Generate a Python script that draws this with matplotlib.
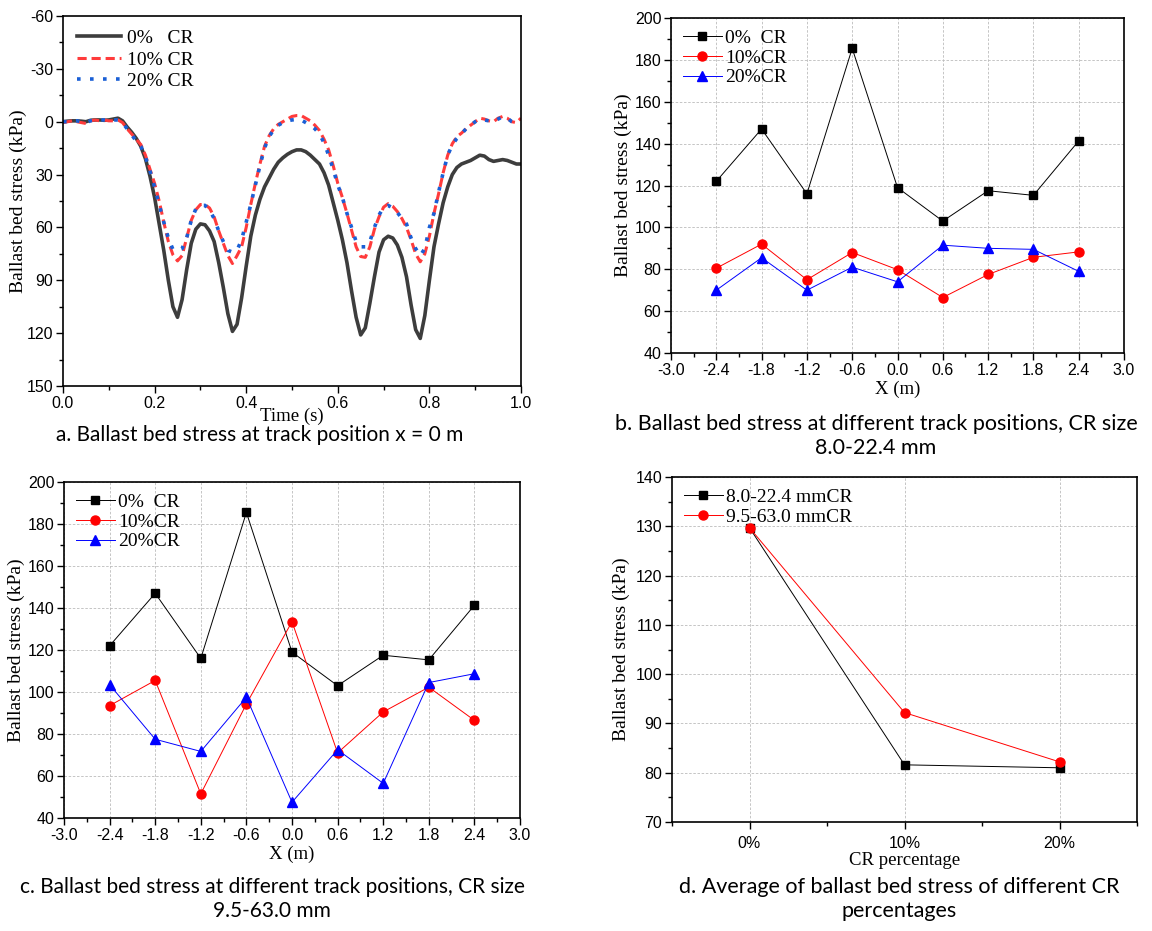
import matplotlib
matplotlib.use("Agg")
import matplotlib.pyplot as plt
import numpy as np
from matplotlib.ticker import MultipleLocator

plt.rcParams["axes.unicode_minus"] = False

# panel a: ballast bed stress over time at x = 0 m
time_s = np.round(np.arange(0, 101) * 0.01, 2)
stress_0 = [0, -0.3, -0.5, -0.5, -0.3, 0, -0.8, -1, -1, -0.8,
            -1, -1.5, -2, -0.5, 3, 6, 9.5, 14, 21, 31,
            43, 58, 73, 90, 105, 111, 101, 84, 69, 61,
            58, 58.5, 62, 68, 80, 94, 109, 119, 115, 100,
            82, 65, 53, 44, 37, 32, 27, 23, 20.5, 18.5,
            17, 16, 16, 17, 19, 21.5, 24, 29, 36, 46,
            56, 67, 80, 96, 111, 121, 117, 103, 88, 74,
            67, 65, 66, 70, 77, 88, 104, 118, 123, 110,
            90, 71, 58, 46, 37, 30, 26, 24, 23, 22,
            20.5, 19, 19.5, 21.5, 22.5, 22, 21.5, 22, 23, 24, 24]
stress_10 = [0.5, 0, -0.5, 0, 0.5, 1, -0.5, -1, -0.5, -1,
             -0.5, -0.5, -1, 0.5, 4, 7, 10, 13, 19, 27,
             35, 45, 57, 68, 75.5, 79, 76, 66, 56, 50,
             47, 47, 49, 54, 62, 69, 76, 80.5, 76, 71,
             60, 47, 35, 24, 14, 8, 4, 1.5, 0, -1.5,
             -3, -3.5, -3.5, -2, -0.5, 2, 5, 10, 16, 25,
             35, 43, 52, 61.5, 71, 76.5, 77, 71, 61, 54,
             48.5, 46.5, 48, 51, 55, 60, 67, 75, 79.5, 75,
             65, 52, 41, 29, 19, 12.5, 8.5, 6.5, 4, 2,
             0, -2, -1.5, -0.5, 0, -2, -3, -2, 0, 0.5, -2]
stress_20 = [0, 0, -0.5, -0.5, 0, 0.5, -0.5, -1, -1, -1,
             -0.5, -1, -1, 0.5, 4, 7.5, 11, 14, 20, 28,
             37, 47, 57, 66, 72.5, 73, 72, 66, 56, 49.5,
             47.5, 47.5, 50, 55, 62, 68, 73, 74, 73, 67,
             57, 47, 36, 25, 15, 8.5, 4.5, 2, 0.5, -0.5,
             -1, -1.3, -1, 0.5, 2, 4, 7, 12, 19, 27,
             36, 43, 52, 60, 68, 71, 71, 68, 60, 53,
             48.5, 47.5, 49, 51.5, 55, 58, 66, 72, 76, 72,
             60, 52, 40, 29, 19, 13, 9.5, 7, 4, 2,
             0, -1.3, -1, -0.5, 0, -1.5, -2.8, -2, 0, 1, 1]

# panels b and c: track positions
x_pos = [-2.4, -1.8, -1.2, -0.6, 0.0, 0.6, 1.2, 1.8, 2.4]
b_0 = [122, 147, 116, 185.5, 119, 103, 117.5, 115.3, 141.3]
b_10 = [80.5, 92, 75, 88, 79.8, 66.5, 77.5, 85.7, 88.3]
b_20 = [70, 85.5, 70, 81, 74, 91.5, 90, 89.5, 79]
c_0 = [122, 147, 116, 185.5, 119, 103, 117.5, 115.3, 141.3]
c_10 = [93.5, 105.5, 51.5, 94.3, 133.5, 71, 90.5, 102.3, 86.5]
c_20 = [103.5, 77.5, 71.7, 97.5, 47.5, 72.5, 56.5, 104.5, 108.7]

# panel d: averages
cr_labels = ["0%", "10%", "20%"]
avg_small = [129.7, 81.6, 81.0]
avg_large = [129.7, 92.2, 82.2]

W, H = 1152, 931
SERIF = "Liberation Serif"
SANS = "Liberation Sans"
CAP = "Lato"


def box(l, t, r, b):
    return [l / W, 1 - b / H, (r - l) / W, (b - t) / H]


def style(ax):
    ax.tick_params(direction="out", which="both", top=False, right=False, labelsize=11.5, pad=2)
    ax.tick_params(which="major", length=5, width=1)
    ax.tick_params(which="minor", length=3, width=1)
    for lab in ax.get_xticklabels() + ax.get_yticklabels():
        lab.set_family(SANS)
    for s in ax.spines.values():
        s.set_linewidth(1.2)


fig = plt.figure(figsize=(W / 100, H / 100), dpi=100)

# a
ax = fig.add_axes(box(63, 16, 521, 386))
ax.plot(time_s, stress_0, color="#3d3d3d", lw=2.6, label="0%   CR", solid_joinstyle="round")
ax.plot(time_s, stress_10, color="#ff3b3b", lw=2.2, dashes=(3, 1.6), label="10% CR")
ax.plot(time_s, stress_20, color="#1a5fd6", lw=2.6, dashes=(1, 2.6), label="20% CR")
ax.set_xlim(0, 1)
ax.set_ylim(150, -60)
ax.set_yticks(np.arange(-60, 151, 30))
ax.yaxis.set_minor_locator(MultipleLocator(15))
ax.xaxis.set_minor_locator(MultipleLocator(0.1))
ax.set_xticks(np.arange(0, 1.01, 0.2))
ax.set_xticklabels(["0.0", "0.2", "0.4", "0.6", "0.8", "1.0"])
style(ax)
ax.set_xlabel("Time (s)", family=SERIF, fontsize=13.5, labelpad=-2)
ax.set_ylabel("Ballast bed stress (kPa)", family=SERIF, fontsize=14, labelpad=0)
ax.legend(loc="upper left", frameon=False, prop={"family": SERIF, "size": 14},
          handlelength=2.3, handletextpad=0.3, labelspacing=0.2, borderaxespad=0.3)


def pos_panel(rect, v0, v10, v20):
    ax = fig.add_axes(rect)
    ax.plot(x_pos, v0, color="black", lw=0.7, marker="s", ms=6, label="0%  CR")
    ax.plot(x_pos, v10, color="#ff0000", lw=0.7, marker="o", ms=6.5, label="10%CR")
    ax.plot(x_pos, v20, color="#0000ff", lw=0.7, marker="^", ms=7, label="20%CR")
    ax.set_xlim(-3, 3)
    ax.set_ylim(40, 200)
    ax.set_xticks(np.round(np.arange(-3, 3.01, 0.6), 1))
    ax.set_xticklabels(["-3.0", "-2.4", "-1.8", "-1.2", "-0.6", "0.0", "0.6", "1.2", "1.8", "2.4", "3.0"])
    ax.xaxis.set_minor_locator(MultipleLocator(0.3))
    ax.set_yticks(np.arange(40, 201, 20))
    ax.yaxis.set_minor_locator(MultipleLocator(10))
    ax.grid(True, which="major", color="#bbbbbb", lw=0.6, ls=(0, (3, 2)))
    ax.set_axisbelow(True)
    style(ax)
    ax.set_xlabel("X (m)", family=SERIF, fontsize=13.5, labelpad=2)
    ax.set_ylabel("Ballast bed stress (kPa)", family=SERIF, fontsize=14, labelpad=2)
    ax.legend(loc="upper left", frameon=False, prop={"family": SERIF, "size": 14},
              handlelength=2.0, handletextpad=0.2, labelspacing=0.1, borderaxespad=0.2,
              numpoints=1)
    return ax


pos_panel(box(671, 18, 1124, 353), b_0, b_10, b_20)
pos_panel(box(64, 482, 520, 818), c_0, c_10, c_20)

# d
ax = fig.add_axes(box(672, 477, 1137, 822))
xi = np.arange(len(cr_labels))
ax.plot(xi, avg_small, color="black", lw=0.7, marker="s", ms=6, label="8.0-22.4 mmCR")
ax.plot(xi, avg_large, color="#ff0000", lw=0.7, marker="o", ms=6.5, label="9.5-63.0 mmCR")
ax.set_xlim(-0.5, 2.5)
ax.set_ylim(70, 140)
ax.set_xticks(xi)
ax.set_xticklabels(cr_labels)
ax.xaxis.set_minor_locator(MultipleLocator(0.5))
ax.set_yticks(np.arange(70, 141, 10))
ax.yaxis.set_minor_locator(MultipleLocator(5))
ax.grid(True, which="major", color="#bbbbbb", lw=0.6, ls=(0, (3, 2)))
ax.set_axisbelow(True)
style(ax)
ax.tick_params(axis="x", pad=5)
ax.set_xlabel("CR percentage", family=SERIF, fontsize=13.5, labelpad=1)
ax.set_ylabel("Ballast bed stress (kPa)", family=SERIF, fontsize=14, labelpad=4)
ax.legend(loc="upper left", frameon=False, prop={"family": SERIF, "size": 14},
          handlelength=2.0, handletextpad=0.2, labelspacing=0.1, borderaxespad=0.2,
          numpoints=1)

# captions
fig.text(260 / W, 1 - 435 / H, "a. Ballast bed stress at track position x = 0 m",
         family=CAP, fontsize=15, ha="center", va="center")
fig.text(876 / W, 1 - 436 / H, "b. Ballast bed stress at different track positions, CR size\n8.0-22.4 mm",
         family=CAP, fontsize=15.5, ha="center", va="center", linespacing=1.2)
fig.text(272 / W, 1 - 899 / H, "c. Ballast bed stress at different track positions, CR size\n9.5-63.0 mm",
         family=CAP, fontsize=15, ha="center", va="center", linespacing=1.2)
fig.text(899 / W, 1 - 899 / H, "d. Average of ballast bed stress of different CR\npercentages",
         family=CAP, fontsize=15.5, ha="center", va="center", linespacing=1.2)

fig.savefig("out.png", dpi=100)
